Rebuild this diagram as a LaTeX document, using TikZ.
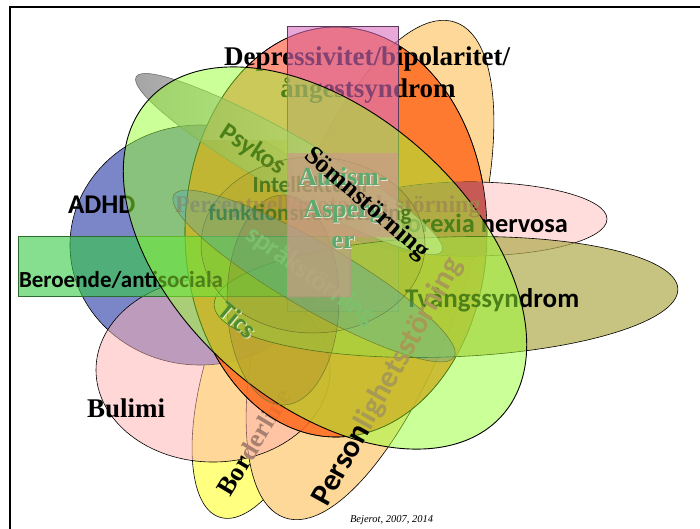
\documentclass[tikz,border=0pt]{standalone}
\usepackage{fontspec}
\setmainfont{Liberation Serif}
\newfontfamily\calib{Carlito}
\definecolor{peachC}{HTML}{FDD898}
\definecolor{yellowC}{HTML}{FFFF80}
\definecolor{blueC}{HTML}{7A86C8}
\definecolor{bulC}{HTML}{FFB1B1}
\definecolor{orangeC}{HTML}{FF6A1E}
\definecolor{salmonC}{HTML}{FF9482}
\definecolor{rectC}{HTML}{D96EBE}
\definecolor{rectL}{HTML}{5A3A5A}
\definecolor{anoC}{HTML}{FFDDDD}
\definecolor{redC}{HTML}{C85A55}
\definecolor{oliveC}{HTML}{B0AB4C}
\definecolor{berC}{HTML}{35CB44}
\definecolor{berL}{HTML}{2E6B2E}
\definecolor{greenC}{HTML}{99FF33}
\definecolor{tanC}{HTML}{C99C84}
\definecolor{lineC}{HTML}{6E7F2A}
\definecolor{intF}{HTML}{8A7A20}
\definecolor{ticF}{HTML}{7A2020}
\definecolor{sprF}{HTML}{3CA0BE}
\definecolor{intC}{HTML}{4D7A1F}
\definecolor{percC}{HTML}{A08850}
\definecolor{ticsC}{HTML}{4E8C2E}
\definecolor{sprT}{HTML}{7CC06E}
\definecolor{autC}{HTML}{5DAA70}
\definecolor{persDim}{HTML}{A69A55}
\definecolor{bordDim}{HTML}{A88070}
\begin{document}
\begin{tikzpicture}[x=1pt,y=-1pt,
  every node/.style={inner sep=0pt,outer sep=0pt},
  outl/.style={draw=black,line width=0.6pt},
  innerl/.style={draw=lineC,line width=0.5pt},
  sansB/.style={font=\calib\bfseries\fontsize{#1}{#1}\selectfont},
  serifB/.style={font=\bfseries\fontsize{#1}{#1}\selectfont},
  glowtext/.style={text=white,text opacity=.7}]
\useasboundingbox (0,0) rectangle (700,528);
\fill[white] (0,0) rectangle (700,528);
% Borderline
\path[outl,fill=yellowC,rotate around={72:(269,365)}] (269,365) ellipse [x radius=160pt,y radius=62pt];
% Personlighetsstorning
\path[outl,fill=peachC,rotate around={71:(370,270)}] (370,270) ellipse [x radius=262pt,y radius=95pt];
% ADHD
\path[outl,fill=blueC] (200,245) ellipse [x radius=130pt,y radius=120pt];
\node[sansB=27,anchor=base west] (adhd) at (68,213) {ADHD};
% Bulimi
\path[outl,fill=bulC,fill opacity=.5] (213,370) ellipse [x radius=117pt,y radius=92pt];
\node[serifB=27,anchor=base west] (bul) at (87,417) {Bulimi};
\node[serifB=26,rotate=59] (bord) at (254,442) {Bor\textcolor{bordDim}{derline}};
% Depressivitet (orange)
\path[fill=orangeC,fill opacity=.85] (336,232) ellipse [x radius=151pt,y radius=205pt];
\begin{scope}
\clip (336,232) ellipse [x radius=151pt,y radius=205pt];
\fill[salmonC] (150,0) rectangle (287,140);
\end{scope}
\path[outl] (336,232) ellipse [x radius=151pt,y radius=205pt];
\node[serifB=27,anchor=base] (dep1) at (367,65) {Depressivitet/bipolaritet/};
\node[serifB=27,anchor=base] (dep2) at (368,97) {ångestsyndrom};
% Anorexia
\path[outl,fill=anoC] (470,219) ellipse [x radius=137pt,y radius=37pt];
\begin{scope}
\clip (336,232) ellipse [x radius=151pt,y radius=205pt];
\fill[redC] (470,219) ellipse [x radius=137pt,y radius=37pt];
\end{scope}
\path[outl] (336,232) ellipse [x radius=151pt,y radius=205pt];
\node[sansB=26.4,anchor=base east] (ano) at (568,232) {Anorexia nervosa};
% Autism rectangle
\path[draw=rectL,line width=.6pt,fill=rectC,fill opacity=.6] (287,26) rectangle (398,311);
% Tvangssyndrom
\path[outl,fill=oliveC,fill opacity=.7,rotate around={2:(446,297)}] (446,297) ellipse [x radius=232pt,y radius=60pt];
\node[sansB=27,anchor=base west] (tva) at (405,307) {Tvångssyndrom};
% Beroende
\path[draw=berL,line width=.6pt,fill=berC,fill opacity=.6] (18,236) rectangle (350,296);
\node[sansB=23,anchor=base west] (ber) at (19,287) {Beroende/antisociala};
% Psykos
\path[draw=black!60,line width=.5pt,left color=black!60,right color=black!5,fill opacity=.6,rotate around={-29.7:(289,164)}] (289,164) ellipse [x radius=176pt,y radius=28pt];
\node[sansB=26,rotate=-33] (psy) at (253,150) {Psykos};
% Somnstorning (light green)
\path[draw=black,line width=.9pt,fill=greenC,fill opacity=.5,rotate around={-41.6:(325,258)}] (325,258) ellipse [x radius=237pt,y radius=145pt];
% inner ellipses
\path[innerl,fill=intF,fill opacity=.10] (313,245) ellipse [x radius=112pt,y radius=88pt];
\path[innerl,fill=ticF,fill opacity=.12] (283,300) ellipse [x radius=56pt,y radius=105pt];
\node[font=\bfseries\fontsize{24}{24}\selectfont,anchor=base west,text=percC,text opacity=.8] (perc) at (175,212) {Perceptuell/motorisk störning};
\node[sansB=23,anchor=base,text=intC] (int1) at (310,192) {Intellektuell};
\node[sansB=23,anchor=base,text=intC] (int2) at (310,220) {funktionsnedsättning};
\path[innerl,fill=sprF,fill opacity=.3,rotate around={-30:(314,276)}] (314,276) ellipse [x radius=162pt,y radius=33pt];
\node[sansB=26,rotate=-40,glowtext] (ticsg) at (239,321) {Tics};
\node[sansB=26,rotate=-40,text=ticsC] (tics) at (238,320) {Tics};
\node[sansB=27,rotate=-35,text=sprT] (spr) at (311,276) {språkstörning};
\node[sansB=31,rotate=61] (pers) at (388,382) {Person\textcolor{persDim}{lighetsstörning}};
% tan overlay of the autism box
\path[fill=tanC,fill opacity=.72] (287,153) -- (398,153) -- (398,237) -- (351,237) -- (351,297) -- (287,297) -- cycle;
\node[serifB=26,anchor=base,glowtext] (aut1g) at (344,186) {Autism-};
\node[serifB=26,anchor=base,glowtext] (aut2g) at (344,218) {Asperg};
\node[serifB=26,anchor=base,glowtext] (aut3g) at (344,249) {er};
\node[serifB=26,anchor=base,text=autC] (aut1) at (343,185) {Autism-};
\node[serifB=26,anchor=base,text=autC] (aut2) at (343,217) {Asperg};
\node[serifB=26,anchor=base,text=autC] (aut3) at (343,248) {er};
\node[serifB=26,rotate=-41] (somn) at (366,204) {Sömnstörning};
\node[font=\itshape\fontsize{10.5}{10.5}\selectfont,anchor=base west] (cred) at (350,522) {Bejerot, 2007, 2014};
% frame
\draw[line width=2.5pt] (703,7) -- (10,7) -- (10,531);
\end{tikzpicture}
\end{document}
